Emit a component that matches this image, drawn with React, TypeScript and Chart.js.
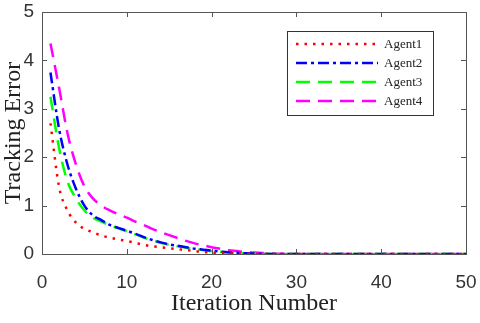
import React, { useEffect, useRef } from "react";
import { Chart, registerables } from "chart.js";

Chart.register(...registerables);

const iterations = Array.from({ length: 50 }, (_, i) => i + 1);
const agent1 = [2.7, 1.4, 0.9, 0.65, 0.52, 0.45, 0.38, 0.34, 0.3, 0.27, 0.23, 0.19, 0.16, 0.14, 0.12, 0.1, 0.08, 0.06, 0.04, 0.03, 0.02, 0.015, 0.01, 0.005, 0, 0, 0, 0, 0, 0, 0, 0, 0, 0, 0, 0, 0, 0, 0, 0, 0, 0, 0, 0, 0, 0, 0, 0, 0, 0];
const agent2 = [3.75, 2.6, 1.85, 1.35, 1.0, 0.8, 0.7, 0.6, 0.54, 0.48, 0.42, 0.35, 0.29, 0.24, 0.2, 0.17, 0.14, 0.11, 0.09, 0.07, 0.05, 0.035, 0.025, 0.015, 0.01, 0.005, 0, 0, 0, 0, 0, 0, 0, 0, 0, 0, 0, 0, 0, 0, 0, 0, 0, 0, 0, 0, 0, 0, 0, 0];
const agent3 = [3.25, 2.2, 1.5, 1.15, 0.9, 0.75, 0.67, 0.59, 0.53, 0.47, 0.41, 0.34, 0.28, 0.23, 0.19, 0.16, 0.13, 0.1, 0.08, 0.06, 0.045, 0.03, 0.02, 0.01, 0.005, 0, 0, 0, 0, 0, 0, 0, 0, 0, 0, 0, 0, 0, 0, 0, 0, 0, 0, 0, 0, 0, 0, 0, 0, 0];
const agent4 = [4.35, 3.45, 2.5, 1.85, 1.4, 1.15, 1.0, 0.9, 0.82, 0.75, 0.67, 0.6, 0.52, 0.45, 0.39, 0.33, 0.27, 0.22, 0.18, 0.14, 0.11, 0.08, 0.06, 0.04, 0.03, 0.02, 0.01, 0.005, 0, 0, 0, 0, 0, 0, 0, 0, 0, 0, 0, 0, 0, 0, 0, 0, 0, 0, 0, 0, 0, 0];
const seriesNames = ["Agent1", "Agent2", "Agent3", "Agent4"];
const xTitle = "Iteration Number";
const yTitle = "Tracking Error";

const AXIS_COLOR = "#555";

const framePlugin = {
  id: "frame",
  afterDraw(chart: any) {
    const { ctx, chartArea: a, scales } = chart;
    ctx.save();
    ctx.strokeStyle = AXIS_COLOR;
    ctx.lineWidth = 1;
    ctx.strokeRect(a.left + 0.5, a.top + 0.5, a.right - a.left, a.bottom - a.top);
    const tl = 5;
    ctx.beginPath();
    scales.x.ticks.forEach((t: any) => {
      const px = Math.round(scales.x.getPixelForValue(t.value)) + 0.5;
      ctx.moveTo(px, a.bottom);
      ctx.lineTo(px, a.bottom - tl);
      ctx.moveTo(px, a.top);
      ctx.lineTo(px, a.top + tl);
    });
    scales.y.ticks.forEach((t: any) => {
      const py = Math.round(scales.y.getPixelForValue(t.value)) + 0.5;
      ctx.moveTo(a.left, py);
      ctx.lineTo(a.left + tl, py);
      ctx.moveTo(a.right, py);
      ctx.lineTo(a.right - tl, py);
    });
    ctx.stroke();

    // axis titles
    ctx.fillStyle = "#222";
    ctx.font = "24px 'Liberation Serif', 'Times New Roman', serif";
    ctx.textAlign = "center";
    ctx.textBaseline = "middle";
    ctx.fillText(xTitle, (a.left + a.right) / 2, 304);
    ctx.save();
    ctx.translate(14, (a.top + a.bottom) / 2);
    ctx.rotate(-Math.PI / 2);
    ctx.fillText(yTitle, 0, 0);
    ctx.restore();

    // legend
    const bx = 287, by = 31, bw = 146, bh = 84;
    ctx.fillStyle = "#fff";
    ctx.fillRect(bx, by, bw, bh);
    ctx.strokeStyle = "#333";
    ctx.strokeRect(bx + 0.5, by + 0.5, bw, bh);
    ctx.font = "13px 'Liberation Serif', 'Times New Roman', serif";
    ctx.textAlign = "left";
    chart.data.datasets.forEach((ds: any, i: number) => {
      const y = 44 + i * 19;
      ctx.save();
      ctx.strokeStyle = ds.borderColor;
      ctx.lineWidth = ds.borderWidth;
      ctx.setLineDash(ds.borderDash || []);
      ctx.beginPath();
      ctx.moveTo(296, y);
      ctx.lineTo(378, y);
      ctx.stroke();
      ctx.restore();
      ctx.fillStyle = "#222";
      ctx.fillText(ds.label, 384, y + 1);
    });
    ctx.restore();
  },
};

export default function App() {
  const ref = useRef<HTMLCanvasElement>(null);
  useEffect(() => {
    const mk = (vals: number[]) => iterations.map((x, i) => ({ x, y: vals[i] }));
    const common = { borderWidth: 2.5, pointRadius: 0, cubicInterpolationMode: "monotone", fill: false };
    const chart = new Chart(ref.current!, {
      type: "line",
      data: {
        datasets: [
          { ...common, label: seriesNames[0], data: mk(agent1), borderColor: "#ff0000", borderDash: [2.5, 6] },
          { ...common, label: seriesNames[1], data: mk(agent2), borderColor: "#0000ff", borderDash: [11, 4, 3, 4] },
          { ...common, label: seriesNames[2], data: mk(agent3), borderColor: "#00ff00", borderDash: [14, 8] },
          { ...common, label: seriesNames[3], data: mk(agent4), borderColor: "#ff00ff", borderDash: [14, 8] },
        ] as any,
      },
      options: {
        animation: false,
        responsive: false,
        maintainAspectRatio: false,
        layout: { padding: { top: 12, right: 14, left: 0, bottom: 0 } },
        plugins: { legend: { display: false }, tooltip: { enabled: false } },
        scales: {
          x: {
            type: "linear",
            min: 0,
            max: 50,
            ticks: { stepSize: 10, color: "#333", font: { family: "'Liberation Sans', Arial, sans-serif", size: 19 }, padding: 17, maxRotation: 0 },
            grid: { display: false, drawTicks: false },
            border: { display: false },
            afterFit: (s: any) => { s.height = 69; s.paddingLeft = 0; s.paddingRight = 0; },
          },
          y: {
            min: 0,
            max: 5,
            ticks: { stepSize: 1, color: "#333", font: { family: "'Liberation Sans', Arial, sans-serif", size: 19 }, padding: 8 },
            grid: { display: false, drawTicks: false },
            border: { display: false },
            afterFit: (s: any) => { s.width = 42; s.paddingTop = 0; s.paddingBottom = 0; },
          },
        },
      },
      plugins: [framePlugin],
    });
    return () => chart.destroy();
  }, []);
  return (
    <div style={{ position: "absolute", left: 0, top: 0, width: 480, height: 323, background: "#fff" }}>
      <canvas ref={ref} width={480} height={323} />
    </div>
  );
}
